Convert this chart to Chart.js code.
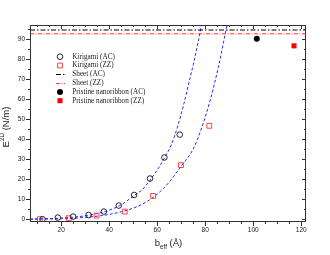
<!DOCTYPE html>
<html>
<head>
<meta charset="utf-8">
<script src="https://cdn.jsdelivr.net/npm/chart.js@4/dist/chart.umd.min.js"></script>
<style>
html,body{margin:0;padding:0;background:#fff;}
</style>
</head>
<body>
<canvas id="chart" width="330" height="255"></canvas>
<script>

// values
const xTicks=[20,40,60,80,100,120];
const yTicks=[0,10,20,30,40,50,60,70,80,90];
const xRange=[7,122];
const yRange=[-1.4,96.9];

const kiriAcX=[12.2,18.6,25,31.4,37.8,44,50.4,57,63,69.4];
const kiriAcY=[0,0.8,1.3,2.1,3.8,6.8,12.1,20.3,30.8,42.2];
const kiriZzX=[11.1,23.1,34.7,46.5,58.3,69.9,81.7];
const kiriZzY=[0,0.5,1.8,3.8,11.6,27,46.6];

const sheetX=[7,122];
const sheetAcY=[94.4,94.4];
const sheetZzY=[92.5,92.5];

const pristineAcX=[101.5];
const pristineAcY=[90.1];
const pristineZzX=[117];
const pristineZzY=[86.5];

const fitAcX=[7,15,20,25,30,35,40,45,50,54,57,60,63,66,68.7,71,73,75,77,78.5];
const fitAcY=[0.05,0.3,0.6,1,1.7,2.8,4.5,7.2,11.5,15,19.5,24.5,30.5,37.5,47,57,67,77,88,97.5];
const fitZzX=[7,15,20,25,30,35,40,45,50,55,60,65,70,75,78.5,82,85.5,89.2];
const fitZzY=[0.02,0.1,0.25,0.5,0.9,1.5,2.4,3.7,5.5,8.3,12.5,18.5,26.5,35,45.5,59,76,97.5];

const pts=(xs,ys)=>xs.map((x,i)=>({x:x,y:ys[i]}));

const datasets=[
{label:"Kirigami (AC)",data:pts(kiriAcX,kiriAcY),showLine:false,
 pointStyle:"circle",pointRadius:2.8,pointBorderWidth:0.9,
 borderColor:"#111",backgroundColor:"rgba(0,0,0,0)",legend:true},
{label:"Kirigami (ZZ)",data:pts(kiriZzX,kiriZzY),showLine:false,
 pointStyle:"rect",pointRadius:3.4,pointBorderWidth:0.9,
 borderColor:"#ff3030",backgroundColor:"rgba(0,0,0,0)",legend:true},
{label:"Sheet (AC)",data:pts(sheetX,sheetAcY),showLine:true,pointRadius:0,
 borderColor:"#000",borderWidth:1,borderDash:[5,2,1.5,2],legend:true},
{label:"Sheet (ZZ)",data:pts(sheetX,sheetZzY),showLine:true,pointRadius:0,
 borderColor:"#ff3030",borderWidth:1,borderDash:[4,1.5,1,1.5],legend:true},
{label:"Pristine nanoribbon (AC)",data:pts(pristineAcX,pristineAcY),showLine:false,
 pointStyle:"circle",pointRadius:3,pointBorderWidth:0,
 borderColor:"#000",backgroundColor:"#000",legend:true},
{label:"Pristine nanoribbon (ZZ)",data:pts(pristineZzX,pristineZzY),showLine:false,
 pointStyle:"rect",pointRadius:3.6,pointBorderWidth:0,
 borderColor:"#ff0000",backgroundColor:"#ff0000",legend:true},
{label:"fit AC",data:pts(fitAcX,fitAcY),showLine:true,pointRadius:0,
 borderColor:"#2a2aff",borderWidth:1,borderDash:[3,2],cubicInterpolationMode:"monotone"},
{label:"fit ZZ",data:pts(fitZzX,fitZzY),showLine:true,pointRadius:0,
 borderColor:"#2a2aff",borderWidth:1,borderDash:[3,2],cubicInterpolationMode:"monotone"}
];

// frame, ticks, axis titles and legend
const decor={
id:"decor",
afterDatasetsDraw(chart){
const ctx=chart.ctx;
const a=chart.chartArea;
const sx=chart.scales.x, sy=chart.scales.y;
ctx.save();
ctx.strokeStyle="#333";
ctx.lineWidth=1;
ctx.setLineDash([]);
ctx.strokeRect(a.left+0.5,a.top+0.5,a.right-a.left-1,a.bottom-a.top-1);

ctx.beginPath();
for(let v=10;v<=120;v+=5){
const p=Math.round(sx.getPixelForValue(v))+0.5;
const len=(v%20===0)?4:2;
ctx.moveTo(p,a.bottom);ctx.lineTo(p,a.bottom+len);
ctx.moveTo(p,a.top);ctx.lineTo(p,a.top+len);
}
for(let v=0;v<=95;v+=5){
const p=Math.round(sy.getPixelForValue(v))+0.5;
const len=(v%10===0)?4:2;
ctx.moveTo(a.left,p);ctx.lineTo(a.left-len,p);
ctx.moveTo(a.right,p);ctx.lineTo(a.right-len,p);
}
ctx.stroke();

// x title
ctx.fillStyle="#222";
ctx.textBaseline="alphabetic";
ctx.font="9.5px 'Liberation Sans'";
const w1=ctx.measureText("b").width;
const w3=ctx.measureText(" (Å)").width;
ctx.font="6.3px 'Liberation Sans'";
const w2=ctx.measureText("eff").width;
let x0=168.5-(w1+w2+w3)/2;
ctx.font="9.5px 'Liberation Sans'";
ctx.fillText("b",x0,246);
ctx.font="6.3px 'Liberation Sans'";
ctx.fillText("eff",x0+w1,248.5);
ctx.font="9.5px 'Liberation Sans'";
ctx.fillText(" (Å)",x0+w1+w2,246);

// y title, rotated
ctx.save();
ctx.translate(8.5,127);
ctx.rotate(-Math.PI/2);
ctx.font="9.5px 'Liberation Sans'";
const e1=ctx.measureText("E").width;
const e3=ctx.measureText(" (N/m)").width;
ctx.font="6.3px 'Liberation Sans'";
const e2=ctx.measureText("2D").width;
let y0=-(e1+e2+e3)/2;
ctx.font="9.5px 'Liberation Sans'";
ctx.fillText("E",y0,0);
ctx.font="6.3px 'Liberation Sans'";
ctx.fillText("2D",y0+e1,-4.5);
ctx.font="9.5px 'Liberation Sans'";
ctx.fillText(" (N/m)",y0+e1+e2,0);
ctx.restore();

// legend
let row=0;
chart.data.datasets.forEach(ds=>{
if(!ds.legend) return;
const y=56.7+row*8.8;
row++;
ctx.strokeStyle=ds.borderColor;
ctx.fillStyle=ds.backgroundColor||"rgba(0,0,0,0)";
if(ds.showLine){
ctx.lineWidth=1;
ctx.setLineDash(ds.borderDash||[]);
ctx.beginPath();
ctx.moveTo(56,Math.round(y)+0.5);ctx.lineTo(65,Math.round(y)+0.5);
ctx.stroke();
ctx.setLineDash([]);
}else{
ctx.lineWidth=ds.pointBorderWidth;
Chart.helpers.drawPoint(ctx,{pointStyle:ds.pointStyle,radius:ds.pointRadius,
rotation:0,borderWidth:ds.pointBorderWidth},60,y);
}
ctx.fillStyle="#222";
ctx.font="7.2px 'Liberation Serif'";
ctx.textBaseline="middle";
ctx.fillText(ds.label,72.3,y);
});
ctx.restore();
}
};

new Chart(document.getElementById("chart"),{
type:"scatter",
data:{datasets:datasets},
options:{
responsive:false,
animation:false,
layout:{padding:{top:25,right:24,left:0,bottom:0}},
plugins:{legend:{display:false},tooltip:{enabled:false}},
scales:{
x:{
type:"linear",min:xRange[0],max:xRange[1],
afterBuildTicks:s=>{s.ticks=xTicks.map(v=>({value:v}));},
afterFit:s=>{s.height=33;},
grid:{display:false,drawTicks:false},
border:{display:false},
ticks:{padding:4,maxRotation:0,autoSkip:false,color:"#222",
font:{family:"'Liberation Sans'",size:6.5}}
},
y:{
type:"linear",min:yRange[0],max:yRange[1],
afterBuildTicks:s=>{s.ticks=yTicks.map(v=>({value:v}));},
afterFit:s=>{s.width=30;},
grid:{display:false,drawTicks:false},
border:{display:false},
ticks:{padding:5,autoSkip:false,color:"#222",
font:{family:"'Liberation Sans'",size:6.5}}
}
}
},
plugins:[decor]
});

</script>
</body>
</html>
